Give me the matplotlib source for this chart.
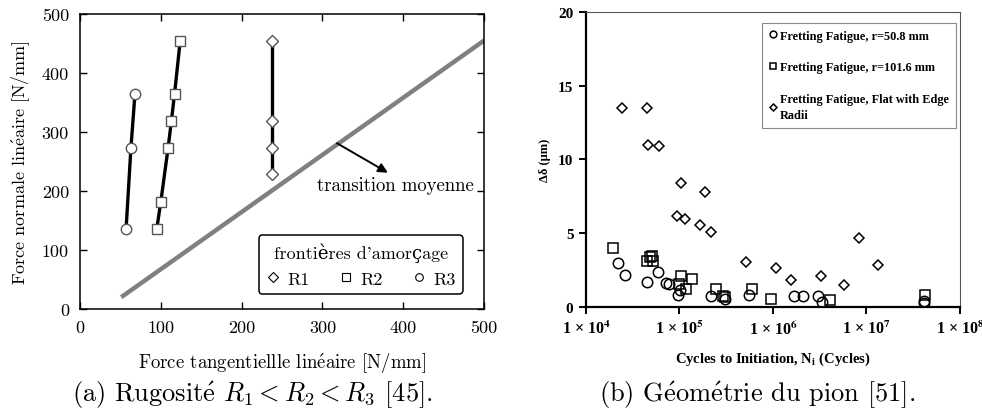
import math
import matplotlib
matplotlib.use('Agg')
from matplotlib import pyplot as plt
from matplotlib.lines import Line2D
from matplotlib.ticker import FixedLocator, FuncFormatter, NullLocator

# (a) initiation boundaries, linear tangential vs normal force [N/mm]
r3_q = [57, 63, 68]
r3_p = [136, 273, 365]
r2_q = [95, 100, 109, 113, 117, 124]
r2_p = [136, 182, 273, 318, 365, 455]
r1_q = [238, 238, 238, 238]
r1_p = [228, 273, 318, 455]
trans_q = [51, 500]
trans_p = [20, 455]

# (b) slip amplitude vs cycles to initiation
circ_n = [2.22e4, 2.61e4, 4.46e4, 5.94e4, 7.18e4, 7.73e4, 9.73e4, 1.01e5,
          2.17e5, 3.07e5, 5.58e5, 1.69e6, 2.08e6, 3.00e6, 3.37e6, 4.10e7, 4.10e7]
circ_d = [2.98, 2.17, 1.67, 2.35, 1.65, 1.58, 0.84, 1.13,
          0.72, 0.56, 0.79, 0.72, 0.77, 0.72, 0.34, 0.41, 0.30]
sq_n = [1.96e4, 4.46e4, 4.83e4, 5.12e4, 5.25e4, 1.05e5, 1.00e5, 1.17e5,
        1.37e5, 2.44e5, 2.94e5, 3.07e5, 6.02e5, 9.45e5, 4.07e6, 4.23e7]
sq_d = [4.02, 3.14, 3.39, 3.43, 3.14, 2.10, 1.58, 1.24,
        1.92, 1.24, 0.75, 0.68, 1.24, 0.54, 0.50, 0.79]
dia_n = [2.45e4, 4.53e4, 4.64e4, 6.04e4, 1.03e5, 1.87e5, 9.33e4, 1.15e5,
         1.64e5, 2.17e5, 5.11e5, 1.07e6, 1.56e6, 3.24e6, 5.70e6, 8.38e6, 1.34e7]
dia_d = [13.49, 13.49, 10.96, 10.89, 8.43, 7.80, 6.19, 5.97,
         5.56, 5.06, 3.03, 2.67, 1.85, 2.12, 1.49, 4.66, 2.82]

plt.rcParams['mathtext.fontset'] = 'cm'
cm = ['cmr10', 'DejaVu Serif']
times = ['Liberation Serif', 'DejaVu Serif']


def cmr(s):
    # cmr10 has no accented glyphs: build them with mathtext accents
    s = s.replace('é', r'$\mathrm{\acute{e}}$').replace('è', r'$\mathrm{\grave{e}}$')
    return s


fig = plt.figure(figsize=(9.82, 4.10), dpi=100)

# ---------------- left panel ----------------
ax1 = fig.add_axes([0.0815, 0.2439, 0.4114, 0.7195])
ax1.plot(trans_q, trans_p, color='#808080', lw=3.2, solid_capstyle='butt', zorder=1)
mk = dict(mfc='white', mec='#555555', mew=1.0, ms=7.5, color='black', lw=2.4, zorder=3)
ax1.plot(r3_q, r3_p, marker='o', **mk)
ax1.plot(r2_q, r2_p, marker='s', **dict(mk, ms=7))
ax1.plot(r1_q, r1_p, marker='D', **dict(mk, ms=6.5))

ax1.set_xlim(0, 500)
ax1.set_ylim(0, 500)
ax1.set_xticks([0, 100, 200, 300, 400, 500])
ax1.set_yticks([0, 100, 200, 300, 400, 500])
ax1.tick_params(direction='in', top=True, right=True, length=5, width=1,
                labelsize=13, pad=8)
for lab in ax1.get_xticklabels() + ax1.get_yticklabels():
    lab.set_family(cm)
for s in ax1.spines.values():
    s.set_linewidth(1.1)
ax1.set_xlabel(cmr('Force tangentiellle linéaire [N/mm]'), family=cm, fontsize=13.5, labelpad=11)
ax1.set_ylabel(cmr('Force normale linéaire [N/mm]'), family=cm, fontsize=13, labelpad=7)

ax1.annotate('', xy=(381, 231), xytext=(318, 281),
             arrowprops=dict(arrowstyle='-|>', lw=1.4, color='black',
                             mutation_scale=14, shrinkA=0, shrinkB=0))
ax1.text(390, 211, 'transition moyenne', family=cm, fontsize=13.5,
         ha='center', va='center')

hk = dict(ls='none', mfc='white', mec='black', mew=0.8)
handles = [Line2D([], [], marker='D', ms=5, **hk),
           Line2D([], [], marker='s', ms=5.5, **hk),
           Line2D([], [], marker='o', ms=5.5, **hk)]
leg1 = ax1.legend(handles, ['R1', 'R2', 'R3'], ncol=3, loc='lower right',
                  bbox_to_anchor=(0.948, 0.051), borderaxespad=0,
                  title="frontières d'amorçage", prop=dict(family=cm, size=13),
                  title_fontproperties=dict(family=cm, size=13),
                  handlelength=0.8, handletextpad=0.4, columnspacing=1.6,
                  fancybox=True, framealpha=1, edgecolor='black')
leg1.get_frame().set_linewidth(1.1)

fig.text(0.257, 0.037, cmr('(a) Rugosité $R_1 < R_2 < R_3$ [45].'), family=cm,
         fontsize=19, ha='center', va='center')

# ---------------- right panel ----------------
ax2 = fig.add_axes([0.5967, 0.2488, 0.3809, 0.7195])
ok = dict(ls='none', mfc='none', mec='black', mew=1.1)
ax2.plot(circ_n, circ_d, marker='o', ms=7.5, **ok)
ax2.plot(sq_n, sq_d, marker='s', ms=7.5, **ok)
ax2.plot(dia_n, dia_d, marker='D', ms=5.5, **ok)

ax2.set_xscale('log')
ax2.set_xlim(1e4, 1e8)
ax2.set_ylim(0, 20)
ax2.xaxis.set_major_locator(FixedLocator([1e4, 1e5, 1e6, 1e7, 1e8]))
ax2.xaxis.set_minor_locator(NullLocator())
ax2.xaxis.set_major_formatter(FuncFormatter(
    lambda v, p: r'1 × 10$^{\mathbf{%d}}$' % round(math.log10(v))))
ax2.set_yticks([0, 5, 10, 15, 20])
ax2.tick_params(direction='out', length=5, width=1.4, pad=4)
ax2.tick_params(axis='x', labelsize=11.5)
ax2.tick_params(axis='y', labelsize=11)
for lab in ax2.get_xticklabels():
    lab.set_family(times)
    lab.set_weight('bold')
    lab.set_math_fontfamily('stix')
for lab in ax2.get_yticklabels():
    lab.set_family(times)
    lab.set_weight('bold')
ax2.spines['left'].set_linewidth(1.6)
ax2.spines['bottom'].set_linewidth(1.6)
for side in ('top', 'right'):
    ax2.spines[side].set_linewidth(0.8)
    ax2.spines[side].set_color('#555555')
ax2.set_xlabel('Cycles to Initiation, N$_\\mathbf{i}$ (Cycles)', family=times,
               weight='bold', fontsize=10.5, labelpad=9, math_fontfamily='stix')
ax2.set_ylabel('Δδ (μm)', family=times, weight='bold', fontsize=9, labelpad=5)

leg2 = ax2.legend(['Fretting Fatigue, r=50.8 mm', 'Fretting Fatigue, r=101.6 mm',
                   'Fretting Fatigue, Flat with Edge\nRadii'],
                  loc='upper left', bbox_to_anchor=(0.471, 0.963), borderaxespad=0,
                  prop=dict(family=times, weight='bold', size=8.8),
                  markerscale=0.65, handlelength=0.6, handletextpad=0.3,
                  labelspacing=1.6, fancybox=False, framealpha=1,
                  edgecolor='#888888', borderpad=0.55)
leg2.get_frame().set_linewidth(0.8)
for t in leg2.get_texts():
    t.set_linespacing(1.45)

fig.text(0.771, 0.037, cmr('(b) Géométrie du pion [51].'), family=cm,
         fontsize=19, ha='center', va='center')

fig.savefig('out.png', dpi=100)
